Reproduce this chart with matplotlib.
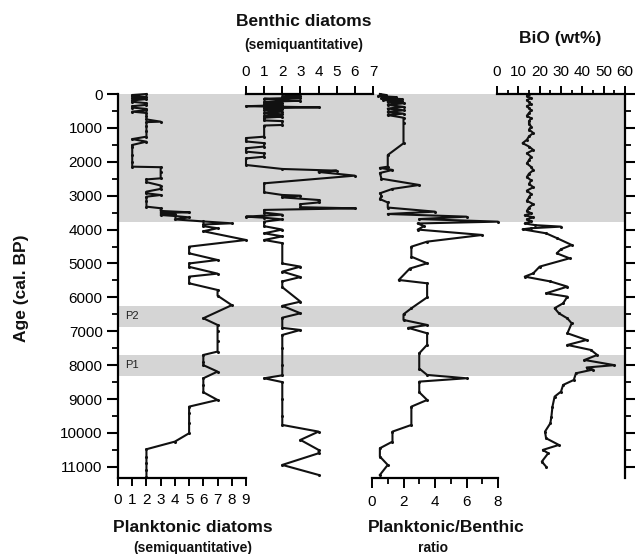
import matplotlib
matplotlib.use("Agg")
import matplotlib.pyplot as plt
from matplotlib.ticker import MultipleLocator

plt.rcParams['font.family'] = ['Liberation Sans', 'DejaVu Sans']

# ---------------- data ----------------
plank_age = [0, 30, 60, 90, 120, 150, 190, 230, 270, 320, 360, 400, 440, 480, 520, 560, 650, 750,
             816, 830, 950, 1100, 1259, 1330, 1406, 1504, 1554, 1800, 2000, 2144, 2160, 2300, 2488,
             2520, 2600, 2700, 2800, 2881, 2930, 2980, 3030, 3150, 3324, 3370, 3450, 3490, 3510,
             3540, 3570, 3600, 3640, 3700, 3760, 3815, 3850, 3900, 3960, 4050, 4307, 4504, 4700,
             4897, 5000, 5100, 5300, 5388, 5585, 5782, 5950, 6230, 6617, 6814, 7000, 7300, 7600,
             7700, 7900, 8000, 8190, 8387, 8600, 8800, 9027, 9224, 9400, 9700, 10009, 10256, 10481,
             10700, 10900, 11100, 11290]
plank_val = [2, 1, 1, 2, 1, 2, 1, 1, 2, 2, 1, 1, 2, 2, 1, 2, 2, 2,
             3, 2, 2, 2, 2, 1, 2, 1, 1, 1, 1, 1, 3, 3, 3,
             2, 2, 3, 3, 2, 2, 3, 2, 2, 2, 3, 3, 5, 3,
             4, 3, 4, 5, 4, 6, 8, 6, 6, 7, 6, 9, 5, 5,
             7, 5, 5, 7, 5, 5, 7, 7, 8, 6, 7, 7, 7, 7,
             6, 6, 6, 7, 6, 6, 6, 7, 5, 5, 5, 5, 4, 2,
             2, 2, 2, 2]

benth_age = [0, 50, 80, 110, 140, 170, 200, 230, 260, 290, 330, 360, 393, 420, 450, 480, 520, 560,
             600, 640, 669, 700, 780, 800, 914, 930, 1259, 1300, 1400, 1450, 1550, 1600, 1700, 1750,
             1850, 1900, 2094, 2212, 2262, 2300, 2409, 2635, 2900, 2979, 3000, 3050, 3127, 3200,
             3250, 3340, 3373, 3420, 3500, 3560, 3618, 3650, 3700, 3766, 3900, 4000, 4110, 4200,
             4307, 4400, 5000, 5093, 5240, 5400, 5530, 5700, 6126, 6250, 6470, 6600, 6900, 6962,
             7109, 7500, 8000, 8300, 8387, 8500, 9000, 9500, 9764, 9961, 10206, 10501, 10600,
             10944, 11239]
benth_val = [2, 3, 2, 3, 1, 2, 3, 1, 2, 1, 2, 0, 4, 1, 2, 1, 2, 1,
             2, 1, 2, 1, 1, 2, 2, 1, 1, 0, 0, 1, 1, 0, 0, 1,
             1, 0, 0, 2, 5, 4, 6, 1, 1, 2, 3, 2, 4, 4,
             3, 3, 6, 1, 1, 2, 0, 1, 2, 1, 1, 2, 1, 2,
             1, 2, 2, 3, 2, 3, 2, 2, 3, 2, 3, 2, 2, 3,
             2, 2, 2, 2, 1, 2, 2, 2, 2, 4, 3, 4, 4,
             2, 4]

ratio_age = [0, 30, 60, 90, 120, 150, 180, 210, 240, 275, 320, 380, 430, 480, 530, 580, 620, 700,
             865, 1455, 1800, 2144, 2180, 2240, 2330, 2500, 2684, 2800, 2930, 3000, 3100, 3200,
             3350, 3471, 3540, 3619, 3690, 3766, 3820, 3900, 4000, 4159, 4356, 4504, 4800, 4995,
             5150, 5487, 5585, 6000, 6322, 6500, 6667, 6814, 6900, 7060, 7400, 7650, 8100, 8289,
             8387, 8486, 8800, 9027, 9224, 9764, 9961, 10256, 10452, 10698, 10944, 11239]
ratio_val = [0.5, 0.9, 0.4, 1.5, 0.6, 1.9, 0.7, 1.9, 1.0, 2.0, 1.0, 2.0, 1.0, 2.0, 1.0, 2.0, 1.0, 2.0,
             2.0, 2.0, 1.0, 1.0, 0.5, 1.3, 0.5, 0.6, 3.0, 1.3, 0.5, 0.6, 0.5, 1.0,
             1.0, 4.0, 1.0, 6.0, 3.0, 8.0, 2.9, 3.3, 2.9, 7.0, 3.5, 2.5, 2.5, 3.5,
             2.4, 1.7, 3.5, 3.5, 2.5, 2.0, 2.0, 3.5, 2.3, 3.5, 3.5, 3.0, 3.0, 3.5,
             6.0, 3.0, 3.0, 3.5, 2.5, 2.5, 1.3, 1.3, 0.5, 0.5, 1.0, 0.5]

bio_age = [0, 60, 120, 180, 240, 300, 360, 420, 480, 560, 640, 720, 800, 880, 960, 1050, 1150,
           1250, 1350, 1450, 1550, 1650, 1750, 1850, 1950, 2050, 2150, 2250, 2350, 2450, 2550,
           2650, 2750, 2850, 2950, 3050, 3150, 3250, 3350, 3450, 3520, 3580, 3640, 3700, 3760,
           3820, 3870, 3913, 3960, 3992, 4110, 4250, 4454, 4580, 4700, 4848, 5093, 5290, 5388,
           5530, 5683, 5880, 5979, 6174, 6320, 6470, 6620, 6765, 7060, 7257, 7404, 7552, 7700,
           7847, 8000, 8070, 8130, 8240, 8437, 8584, 8780, 8929, 9224, 9519, 9715, 9961, 10157,
           10354, 10501, 10600, 10846, 10994]
bio_val = [15, 14, 16, 14, 15, 16, 14, 15, 16, 15, 14, 16, 15, 15, 16, 15, 17,
           15, 14, 12, 15, 17, 14, 16, 15, 14, 16, 17, 15, 14, 16, 15, 17,
           14, 16, 15, 14, 17, 15, 14, 16, 13, 17, 14, 16,
           13, 18, 30, 16, 12, 23, 28, 35, 30, 28, 34, 20, 17, 13,
           25, 33, 23, 33, 31, 27, 29, 33, 35, 33, 42, 33, 44, 47,
           41, 55, 42, 45, 37, 36, 31, 30, 27, 26, 25.5, 25, 22.5, 23,
           29, 21.5, 24, 21, 23]

shade_bands = [(0, 3780), (6250, 6870), (7700, 8320)]
band_labels = [("P2", 6560), ("P1", 8010)]

yticks = list(range(0, 11001, 1000))
ymax = 11330

# ---------------- layout helpers ----------------
W, H = 635, 554
fig = plt.figure(figsize=(W / 100, H / 100), dpi=100)


def px_axes(x0, x1, y0, y1):
    return fig.add_axes([x0 / W, 1 - y1 / H, (x1 - x0) / W, (y1 - y0) / H])


def ftxt(x, y, s, **kw):
    fig.text(x / W, 1 - y / H, s, **kw)


TOP, BOT = 94, 478
LINE = dict(color='#111111', lw=1.5, marker='o', ms=1.2, clip_on=False)
TICKFS = 11

# background frame with shading and age axis
ax0 = px_axes(118, 625, TOP, BOT)
ax0.set_xlim(0, 1)
ax0.set_ylim(ymax, 0)
for a, b in shade_bands:
    ax0.axhspan(a, b, color='#d5d5d5', lw=0, zorder=0)
for lab, yy in band_labels:
    ax0.text(0.015, yy, lab, fontsize=8, va='center', ha='left', color='#222222')
ax0.spines['top'].set_visible(False)
ax0.spines['bottom'].set_visible(False)
for s in ('left', 'right'):
    ax0.spines[s].set_linewidth(1.6)
ax0.set_xticks([])
ax0.set_yticks(yticks)
ax0.yaxis.set_minor_locator(MultipleLocator(500))
ax0.tick_params(axis='y', which='major', direction='out', length=8, width=1.5,
                left=True, right=True, labelleft=True, labelright=False, labelsize=TICKFS, pad=3)
ax0.tick_params(axis='y', which='minor', direction='out', length=4, width=1.3,
                left=True, right=True)


def panel(x0, x1, xlim, where):
    ax = px_axes(x0, x1, TOP, BOT)
    ax.set_facecolor('none')
    ax.set_xlim(*xlim)
    ax.set_ylim(ymax, 0)
    for s in ('left', 'right', 'top', 'bottom'):
        ax.spines[s].set_visible(s == where)
    ax.spines[where].set_linewidth(1.6)
    ax.set_yticks([])
    if where == 'top':
        ax.xaxis.tick_top()
    return ax


ax1 = panel(118, 246, (0, 9), 'bottom')
ax1.plot(plank_val, plank_age, **LINE)
ax1.set_xticks(range(0, 10))
ax1.tick_params(axis='x', direction='out', length=6, width=1.4, labelsize=TICKFS, pad=5)

ax2 = panel(246, 373, (0, 7), 'top')
ax2.plot(benth_val, benth_age, **LINE)
ax2.set_xticks(range(0, 8))
ax2.tick_params(axis='x', direction='out', length=6, width=1.4, labelsize=TICKFS, pad=5,
                top=True, bottom=False, labeltop=True, labelbottom=False)

ax3 = panel(372, 498, (0, 8), 'bottom')
ax3.plot(ratio_val, ratio_age, **LINE)
ax3.set_xticks(range(0, 9, 2))
ax3.xaxis.set_minor_locator(MultipleLocator(1))
ax3.tick_params(axis='x', which='major', direction='out', length=7, width=1.4,
                labelsize=TICKFS, pad=5)
ax3.tick_params(axis='x', which='minor', direction='out', length=4, width=1.3)

ax4 = panel(497, 625, (0, 60), 'top')
ax4.plot(bio_val, bio_age, **LINE)
ax4.set_xticks(range(0, 61, 10))
ax4.xaxis.set_minor_locator(MultipleLocator(5))
ax4.tick_params(axis='x', which='major', direction='out', length=6, width=1.4, labelsize=TICKFS,
                pad=5, top=True, bottom=False, labeltop=True, labelbottom=False)
ax4.tick_params(axis='x', which='minor', direction='out', length=3, width=1.3,
                top=True, bottom=False)

# titles
TB = dict(fontweight='bold', ha='center', va='center', color='#111111')
ftxt(304, 22, 'Benthic diatoms', fontsize=12.5, **TB)
ftxt(304, 45, '(semiquantitative)', fontsize=10, **TB)
ftxt(560, 38, 'BiO (wt%)', fontsize=12.5, **TB)
ftxt(193, 527, 'Planktonic diatoms', fontsize=12.5, **TB)
ftxt(193, 548, '(semiquantitative)', fontsize=10, **TB)
ftxt(446, 527, 'Planktonic/Benthic', fontsize=12.5, **TB)
ftxt(433, 548, 'ratio', fontsize=10, **TB)
ftxt(22, 288, 'Age (cal. BP)', fontsize=12.5, rotation=90, **TB)

fig.savefig('out.png', dpi=100)
